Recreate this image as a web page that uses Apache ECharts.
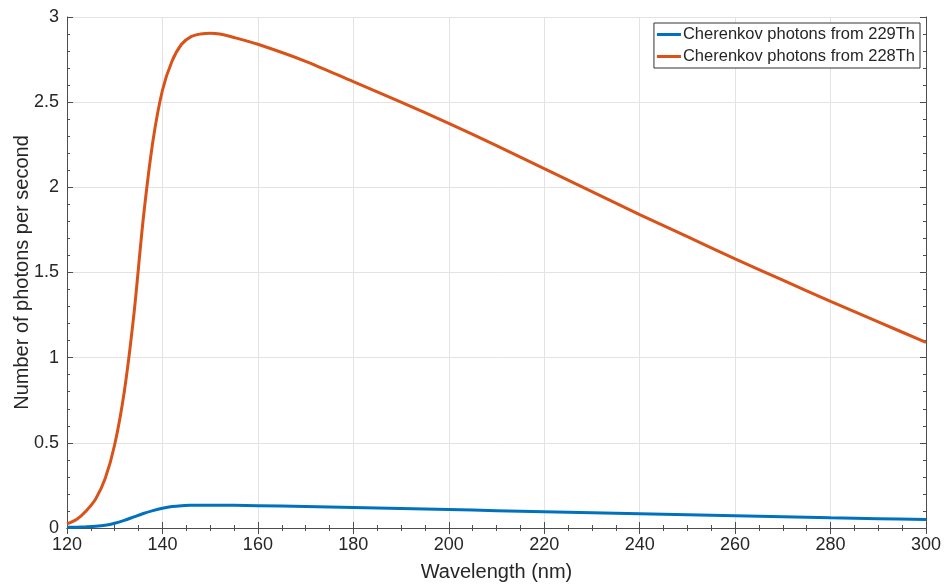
<!DOCTYPE html>
<html>
<head>
<meta charset="utf-8">
<script src="https://cdn.jsdelivr.net/npm/echarts@6/dist/echarts.min.js"></script>
<style>
  html, body { margin: 0; padding: 0; background: #fff; }
  #chart { width: 946px; height: 585px; }
</style>
</head>
<body>
<div id="chart"></div>
<script>
// wavelength in nm
var wavelengths = [120, 122, 124, 126, 128, 130, 132, 134, 136, 138, 140, 142, 144, 146, 148, 150, 152, 155, 160, 170, 180, 190, 200, 210, 220, 230, 240, 250, 260, 270, 280, 290, 300];
// photons per second
var photons229 = [0.004, 0.005, 0.007, 0.010, 0.016, 0.028, 0.045, 0.065, 0.085, 0.102, 0.116, 0.126, 0.131, 0.133, 0.134, 0.134, 0.134, 0.133, 0.131, 0.126, 0.120, 0.114, 0.108, 0.102, 0.096, 0.090, 0.084, 0.078, 0.072, 0.066, 0.060, 0.055, 0.050];
var photons228 = [0.025, 0.05, 0.10, 0.17, 0.29, 0.49, 0.80, 1.25, 1.82, 2.27, 2.57, 2.74, 2.84, 2.885, 2.90, 2.905, 2.90, 2.88, 2.84, 2.74, 2.62, 2.50, 2.375, 2.245, 2.11, 1.975, 1.84, 1.71, 1.58, 1.455, 1.33, 1.21, 1.09];
var seriesNames = ['Cherenkov photons from 229Th', 'Cherenkov photons from 228Th'];

function pairs(ys) {
  return wavelengths.map(function (x, i) { return [x, ys[i]]; });
}

var myChart = echarts.init(document.getElementById('chart'));

var axisColor = '#4d4d4d';
var textColor = '#262626';
var font = 'Liberation Sans, Arial, sans-serif';

var xBase = {
  type: 'value', min: 120, max: 300, interval: 20,
  axisLine: { show: true, lineStyle: { color: axisColor, width: 1 } },
  axisTick: { show: true, inside: true, length: 6, lineStyle: { color: axisColor } },
  minorTick: { show: true, splitNumber: 4, length: 3, lineStyle: { color: axisColor } }
};
var yBase = {
  type: 'value', min: 0, max: 3, interval: 0.5,
  axisLine: { show: true, lineStyle: { color: axisColor, width: 1 } },
  axisTick: { show: true, inside: true, length: 6, lineStyle: { color: axisColor } },
  minorTick: { show: true, splitNumber: 5, length: 3, lineStyle: { color: axisColor } }
};

var option = {
  backgroundColor: '#fff',
  animation: false,
  grid: { left: 67, right: 20, top: 17, bottom: 57, outerBoundsMode: 'none', containLabel: false },
  legend: {
    orient: 'vertical', right: 26, top: 23,
    itemWidth: 24, itemHeight: 3, itemGap: 5,
    padding: [3, 5, 3, 3],
    borderColor: '#333', borderWidth: 1,
    backgroundColor: '#fff',
    icon: 'rect',
    textStyle: { fontFamily: font, fontSize: 16.5, color: textColor, padding: [0, 0, 0, -3] },
    data: seriesNames
  },
  xAxis: [
    Object.assign({}, xBase, {
      position: 'bottom',
      name: 'Wavelength (nm)', nameLocation: 'middle', nameGap: 34, nameMoveOverlap: false,
      nameTextStyle: { fontFamily: font, fontSize: 20, color: textColor },
      axisLabel: { fontFamily: font, fontSize: 18, color: textColor, margin: 8 },
      splitLine: { show: true, lineStyle: { color: '#e3e3e3' } }
    }),
    Object.assign({}, xBase, {
      position: 'top',
      axisLabel: { show: false },
      splitLine: { show: false }
    })
  ],
  yAxis: [
    Object.assign({}, yBase, {
      position: 'left',
      name: 'Number of photons per second', nameLocation: 'middle', nameGap: 35, nameMoveOverlap: false,
      nameTextStyle: { fontFamily: font, fontSize: 20, color: textColor },
      axisLabel: { fontFamily: font, fontSize: 18, color: textColor, margin: 8 },
      splitLine: { show: true, lineStyle: { color: '#e3e3e3' } }
    }),
    Object.assign({}, yBase, {
      position: 'right',
      axisLabel: { show: false },
      splitLine: { show: false }
    })
  ],
  series: [
    {
      name: seriesNames[0], type: 'line', data: pairs(photons229),
      smooth: 0.3, showSymbol: false,
      lineStyle: { color: '#0072BD', width: 3 }, itemStyle: { color: '#0072BD' }
    },
    {
      name: seriesNames[1], type: 'line', data: pairs(photons228),
      smooth: 0.3, showSymbol: false,
      lineStyle: { color: '#D95319', width: 3 }, itemStyle: { color: '#D95319' }
    }
  ]
};

myChart.setOption(option);
</script>
</body>
</html>
